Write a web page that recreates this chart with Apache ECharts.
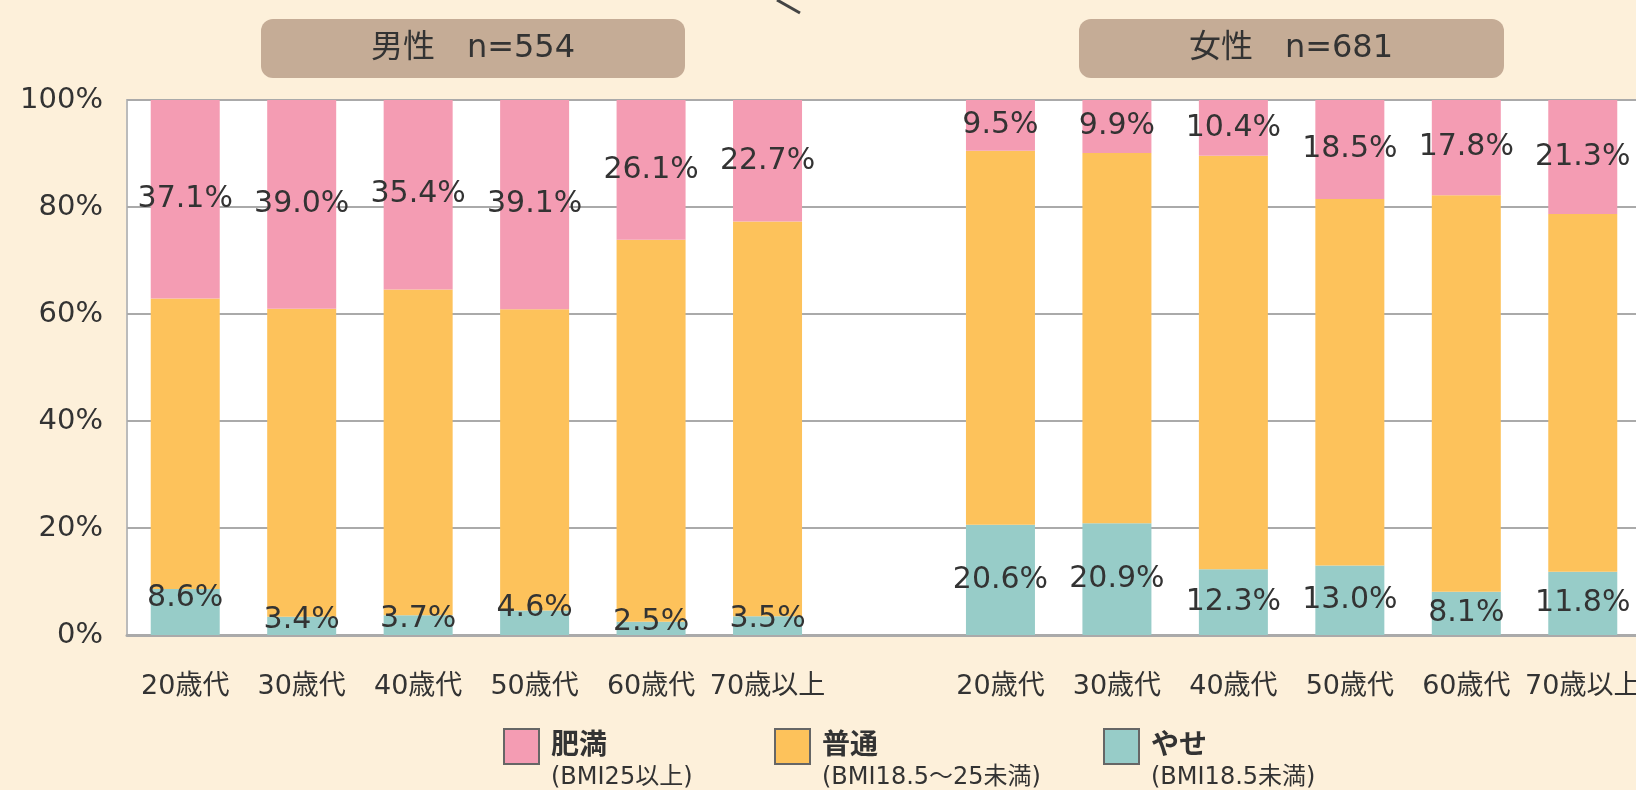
<!DOCTYPE html>
<html>
<head>
<meta charset="utf-8">
<script src="https://cdn.jsdelivr.net/npm/echarts@6/dist/echarts.min.js"></script>
<style>
  html, body { margin: 0; padding: 0; background: #FDF0DA; }
  #chart { width: 1636px; height: 790px; }
</style>
</head>
<body>
<div id="chart"></div>
<script>
  /* 年代 */
  var ageGroups = ['20歳代', '30歳代', '40歳代', '50歳代', '60歳代', '70歳以上'];
  var yTicks = [0, 20, 40, 60, 80, 100];

  /* 男性 n=554 */
  var menObese = [37.1, 39.0, 35.4, 39.1, 26.1, 22.7];
  var menNormal = [54.3, 57.6, 60.9, 56.3, 71.4, 73.8];
  var menThin = [8.6, 3.4, 3.7, 4.6, 2.5, 3.5];

  /* 女性 n=681 */
  var womenObese = [9.5, 9.9, 10.4, 18.5, 17.8, 21.3];
  var womenNormal = [69.9, 69.2, 77.3, 68.5, 74.1, 66.9];
  var womenThin = [20.6, 20.9, 12.3, 13.0, 8.1, 11.8];

  var seriesNames = ['肥満', '普通', 'やせ'];
  var seriesSubs = ['(BMI25以上)', '(BMI18.5～25未満)', '(BMI18.5未満)'];
  var colors = ['#F49CB3', '#FDC25B', '#97CCC8'];

  var FONT = '"DejaVu Sans", "Noto Sans CJK JP", sans-serif';

  /* 男性6本 + 空き1本 + 女性6本 */
  var categories = ageGroups.concat(['']).concat(ageGroups);
  function join(men, women) {
    return men.concat([null]).concat(women);
  }

  var chart = echarts.init(document.getElementById('chart'));

  var labelBase = {
    show: true,
    position: 'inside',
    color: '#333',
    fontSize: 30,
    fontFamily: FONT,
    formatter: function (p) {
      return p.value == null ? '' : p.value.toFixed(1) + '%';
    }
  };

  // やせ: 男性の小さい値はラベルを少し上へ
  var thinData = join(menThin, womenThin).map(function (v, i) {
    if (v == null) return v;
    if (i < ageGroups.length) {
      return { value: v, label: { offset: [0, v > 4 ? -14 : -6] } };
    }
    return v;
  });

  function makeLegend(idx, left) {
    return {
      data: [seriesNames[idx]],
      left: left,
      top: 723,
      icon: 'rect',
      itemWidth: 35,
      itemHeight: 35,
      selectedMode: false,
      itemStyle: { borderColor: '#666', borderWidth: 2 },
      formatter: function (name) {
        return '{a|' + name + '}\n{b|' + seriesSubs[idx] + '}';
      },
      textStyle: {
        color: '#333',
        fontFamily: FONT,
        padding: [28, 0, 0, 7],
        rich: {
          a: { fontSize: 28, fontWeight: 'bold', lineHeight: 34, fontFamily: FONT, color: '#333' },
          b: { fontSize: 24, lineHeight: 28, fontFamily: FONT, color: '#333' }
        }
      }
    };
  }

  chart.setOption({
    backgroundColor: '#FDF0DA',
    animation: false,
    textStyle: { fontFamily: FONT },
    grid: {
      show: true,
      left: 127,
      top: 100,
      height: 535,
      right: -5,
      outerBoundsMode: 'none',
      containLabel: false,
      backgroundColor: '#fff',
      borderColor: '#bbb',
      borderWidth: 2
    },
    legend: [makeLegend(0, 498), makeLegend(1, 769), makeLegend(2, 1098)],
    xAxis: {
      type: 'category',
      data: categories,
      axisTick: { show: false },
      axisLine: { lineStyle: { color: '#aaa', width: 3 } },
      axisLabel: { interval: 0, fontSize: 27, color: '#333', margin: 38, fontFamily: FONT }
    },
    yAxis: {
      type: 'value',
      min: yTicks[0],
      max: yTicks[yTicks.length - 1],
      interval: 20,
      axisLine: { show: false },
      axisTick: { show: false },
      splitLine: { lineStyle: { color: '#aaa', width: 2 } },
      axisLabel: { formatter: '{value}%', fontSize: 29, color: '#333', margin: 24, fontFamily: FONT }
    },
    series: [
      {
        name: seriesNames[2],
        type: 'bar',
        stack: 'bmi',
        barWidth: 69,
        itemStyle: { color: colors[2] },
        label: labelBase,
        data: thinData
      },
      {
        name: seriesNames[1],
        type: 'bar',
        stack: 'bmi',
        barWidth: 69,
        itemStyle: { color: colors[1] },
        data: join(menNormal, womenNormal)
      },
      {
        name: seriesNames[0],
        type: 'bar',
        stack: 'bmi',
        barWidth: 69,
        itemStyle: { color: colors[0] },
        label: labelBase,
        data: join(menObese, womenObese)
      }
    ],
    /* 見出しのボックス */
    graphic: [
      { type: 'rect', shape: { x: 261, y: 19, width: 424, height: 59, r: 12 }, style: { fill: '#C5AC96' } },
      { type: 'text', x: 473, y: 49, style: { text: '男性　n=554', align: 'center', verticalAlign: 'middle', fontSize: 32, fontFamily: FONT, fill: '#333' } },
      { type: 'rect', shape: { x: 1079, y: 19, width: 425, height: 59, r: 12 }, style: { fill: '#C5AC96' } },
      { type: 'text', x: 1291, y: 49, style: { text: '女性　n=681', align: 'center', verticalAlign: 'middle', fontSize: 32, fontFamily: FONT, fill: '#333' } },
      { type: 'line', shape: { x1: 777, y1: 0, x2: 800, y2: 13 }, style: { stroke: '#444', lineWidth: 3 } }
    ]
  });
</script>
</body>
</html>
